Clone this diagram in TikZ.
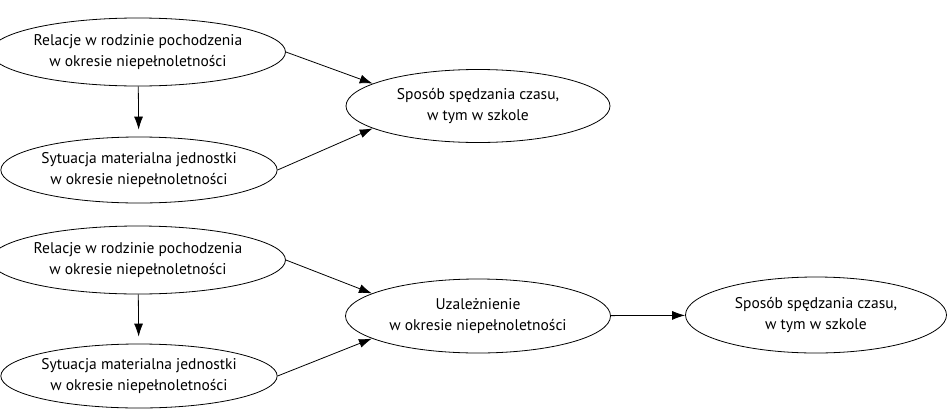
\documentclass[tikz,border=0pt]{standalone}
\usepackage{fontspec}
\setmainfont{PT Sans}
\usetikzlibrary{shapes.geometric,arrows.meta}

\tikzset{
  oval/.style={draw,ellipse,inner sep=0pt,align=center,line width=0.8pt,
    font=\fontsize{15.5}{21}\selectfont},
  link/.style={-{Latex[length=13pt,width=9pt]},line width=0.8pt},
}

\begin{document}
\begin{tikzpicture}[x=1pt,y=-1pt]
        \useasboundingbox (0,0) rectangle (948,410);
        % top part
        \node[oval,minimum width=267,minimum height=68](relA) at (138,52){Relacje w rodzinie pochodzenia\\w okresie niepełnoletności};
        \node[oval,minimum width=265,minimum height=66](sytA) at (139,170){Sytuacja materialna jednostki\\w okresie niepełnoletności};
        \node[oval,minimum width=264,minimum height=73](czasA) at (478,106){Sposób spędzania czasu,\\w tym w szkole};

        \draw[link,shorten >=7pt](relA)--(sytA);
        \draw[link](relA.east)--(czasA.168);
        \draw[link](sytA.east)--(czasA.192);

        % bottom part
        \node[oval,minimum width=267,minimum height=68](relB) at (138,260){Relacje w rodzinie pochodzenia\\w okresie niepełnoletności};
        \node[oval,minimum width=265,minimum height=64](sytB) at (139,376){Sytuacja materialna jednostki\\w okresie niepełnoletności};
        \node[oval,minimum width=265,minimum height=74](uzal) at (478,316){Uzależnienie\\w okresie niepełnoletności};
        \node[oval,minimum width=261,minimum height=76](czasB) at (816,315){Sposób spędzania czasu,\\w tym w szkole};

        \draw[link,shorten >=7pt](relB)--(sytB);
        \draw[link](relB.east)--(uzal.168);
        \draw[link](sytB.east)--(uzal.192);
        \draw[link](uzal)--(czasB);
    \end{tikzpicture}
\end{document}
